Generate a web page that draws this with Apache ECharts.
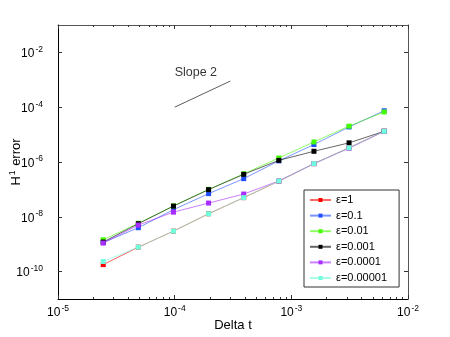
<!DOCTYPE html>
<html>
<head>
<meta charset="utf-8">
<script src="https://cdn.jsdelivr.net/npm/echarts@6/dist/echarts.min.js"></script>
<style>
html,body{margin:0;padding:0;background:#fff;}
#c{width:450px;height:337px;}
</style>
</head>
<body>
<div id="c"></div>
<script>
var deltaT = [2.44140625e-5, 4.8828125e-5, 9.765625e-5, 1.953125e-4, 3.90625e-4, 7.8125e-4, 1.5625e-3, 3.125e-3, 6.25e-3];
var seriesNames = ['ε=1', 'ε=0.1', 'ε=0.01', 'ε=0.001', 'ε=0.0001', 'ε=0.00001'];
var errEps1     = [1.8e-10, 7.8e-10, 3.0e-9, 1.29e-8, 5.0e-8, 2.0e-7, 8.7e-7, 3.3e-6, 1.32e-5];
var errEps01    = [1.15e-9, 4.0e-9, 1.82e-8, 7.0e-8, 2.47e-7, 1.1e-6, 4.35e-6, 1.9e-5, 7.4e-5];
var errEps001   = [1.45e-9, 5.8e-9, 2.5e-8, 1.0e-7, 3.7e-7, 1.4e-6, 5.4e-6, 2.04e-5, 6.7e-5];
var errEps0001  = [1.2e-9, 5.6e-9, 2.46e-8, 9.8e-8, 3.55e-7, 1.15e-6, 2.46e-6, 5.0e-6, 1.32e-5];
var errEps00001 = [1.1e-9, 5.0e-9, 1.48e-8, 3.17e-8, 6.76e-8, 2.03e-7, 8.7e-7, 3.2e-6, 1.32e-5];
var errEps000001= [2.34e-10, 7.8e-10, 3.0e-9, 1.29e-8, 5.0e-8, 2.03e-7, 8.7e-7, 3.3e-6, 1.32e-5];
var slopeX = [1e-4, 3e-4];
var slopeY = [1e-4, 9e-4];
var slopeLabelPos = [1e-4, 1.8e-3];
var slopeLabel = 'Slope 2';
var xMajorTicks = [1e-5, 1e-4, 1e-3, 1e-2];
var xMinorTicks = [2e-5,3e-5,4e-5,5e-5,6e-5,7e-5,8e-5,9e-5,2e-4,3e-4,4e-4,5e-4,6e-4,7e-4,8e-4,9e-4,2e-3,3e-3,4e-3,5e-3,6e-3,7e-3,8e-3,9e-3];
var yMajorTicks = [1e-10, 1e-8, 1e-6, 1e-4, 1e-2];
var xTitle = 'Delta t';
var markerColors = ['#ff0000', '#1f4fff', '#44ff00', '#000000', '#a82cff', '#70ffdc'];

var FONT = "'Liberation Sans', Arial, sans-serif";
function powLabel(v) {
  var e = Math.round(Math.log(v) / Math.LN10);
  return '{b|10}{s|' + (e < 0 ? '-' + (-e) : e) + '}';
}
var richLab = {
  b: {fontSize: 12, fontFamily: FONT, color: '#000', verticalAlign: 'bottom', lineHeight: 15},
  s: {fontSize: 8.5, fontFamily: FONT, color: '#000', verticalAlign: 'bottom', lineHeight: 15, padding: [0, 0, 6, 1]}
};
function zip(xs, ys) { return xs.map(function (x, i) { return [x, ys[i]]; }); }
var allErr = [errEps1, errEps01, errEps001, errEps0001, errEps00001, errEps000001];

var series = allErr.map(function (ys, i) {
  return {
    name: seriesNames[i], type: 'line', xAxisIndex: 0, yAxisIndex: 0,
    data: zip(deltaT, ys), symbol: 'rect', symbolSize: 5,
    itemStyle: {color: markerColors[i]},
    lineStyle: {color: markerColors[i], width: 1, opacity: 0.6},
    z: 3 + i
  };
});
series.push({
  type: 'line', xAxisIndex: 0, yAxisIndex: 0, data: zip(slopeX, slopeY),
  symbol: 'none', lineStyle: {color: '#333', width: 0.8}, silent: true
});
series.push({
  type: 'scatter', xAxisIndex: 0, yAxisIndex: 0, data: [slopeLabelPos], symbolSize: 0,
  label: {show: true, position: 'inside', align: 'left', verticalAlign: 'middle', formatter: slopeLabel,
    fontSize: 12.5, fontFamily: FONT, color: '#000'}, silent: true
});

function xAx(pos, ticks, len, showLine, showLab, lineColor) {
  return {
    type: 'log', logBase: 10, min: 1e-5, max: 1e-2, position: pos,
    axisLine: {show: showLine, onZero: false, lineStyle: {color: lineColor, width: 1}},
    axisTick: {show: true, inside: true, length: len, customValues: ticks, lineStyle: {color: '#333'}},
    axisLabel: showLab ? {show: true, customValues: ticks, formatter: powLabel, rich: richLab, margin: 5} : {show: false},
    splitLine: {show: false}, minorTick: {show: false}
  };
}
var xAxes = [
  xAx('bottom', xMajorTicks, 4, true, true, '#000'),
  xAx('bottom', xMinorTicks, 2, false, false, '#000'),
  xAx('top', xMajorTicks, 4, true, false, '#555'),
  xAx('top', xMinorTicks, 2, false, false, '#555')
];
xAxes[0].name = xTitle;
xAxes[0].nameLocation = 'middle';
xAxes[0].nameGap = 20;
xAxes[0].nameMoveOverlap = false;
xAxes[0].nameTextStyle = {fontSize: 13, fontFamily: FONT, color: '#000'};

function yAx(pos, showLab, lineColor) {
  return {
    type: 'log', logBase: 10, min: 1e-11, max: 1e-1, position: pos,
    axisLine: {show: true, onZero: false, lineStyle: {color: lineColor, width: 1}},
    axisTick: {show: true, inside: true, length: 4, customValues: yMajorTicks, lineStyle: {color: '#333'}},
    axisLabel: showLab ? {show: true, customValues: yMajorTicks, formatter: powLabel, rich: richLab, margin: 15} : {show: false},
    splitLine: {show: false}, minorTick: {show: false}
  };
}
var yAxes = [yAx('left', true, '#000'), yAx('right', false, '#555')];
yAxes[0].name = '{a|H}{c|1}{a| error}';
yAxes[0].nameLocation = 'middle';
yAxes[0].nameGap = 35;
yAxes[0].nameMoveOverlap = false;
yAxes[0].nameRotate = 90;
yAxes[0].nameTextStyle = {
  rich: {
    a: {fontSize: 13, fontFamily: FONT, color: '#000', verticalAlign: 'bottom', lineHeight: 16},
    c: {fontSize: 8.5, fontFamily: FONT, color: '#000', verticalAlign: 'bottom', lineHeight: 16, padding: [0, 1, 6, 1]}
  }
};

var chart = echarts.init(document.getElementById('c'), null, {renderer: 'canvas'});
chart.setOption({
  animation: false,
  backgroundColor: '#fff',
  grid: {left: 58, top: 25, width: 350, height: 274, containLabel: false, outerBoundsMode: 'none'},
  legend: {
    data: seriesNames, orient: 'vertical', left: 304, top: 190,
    backgroundColor: '#fff', borderColor: '#333', borderWidth: 1,
    padding: [4, 12, 3, 5], itemWidth: 21, itemHeight: 5, itemGap: 3.6,
    textStyle: {fontSize: 11, fontFamily: FONT, color: '#000', lineHeight: 12},
    selectedMode: false
  },
  xAxis: xAxes,
  yAxis: yAxes,
  series: series
});
</script>
</body>
</html>
